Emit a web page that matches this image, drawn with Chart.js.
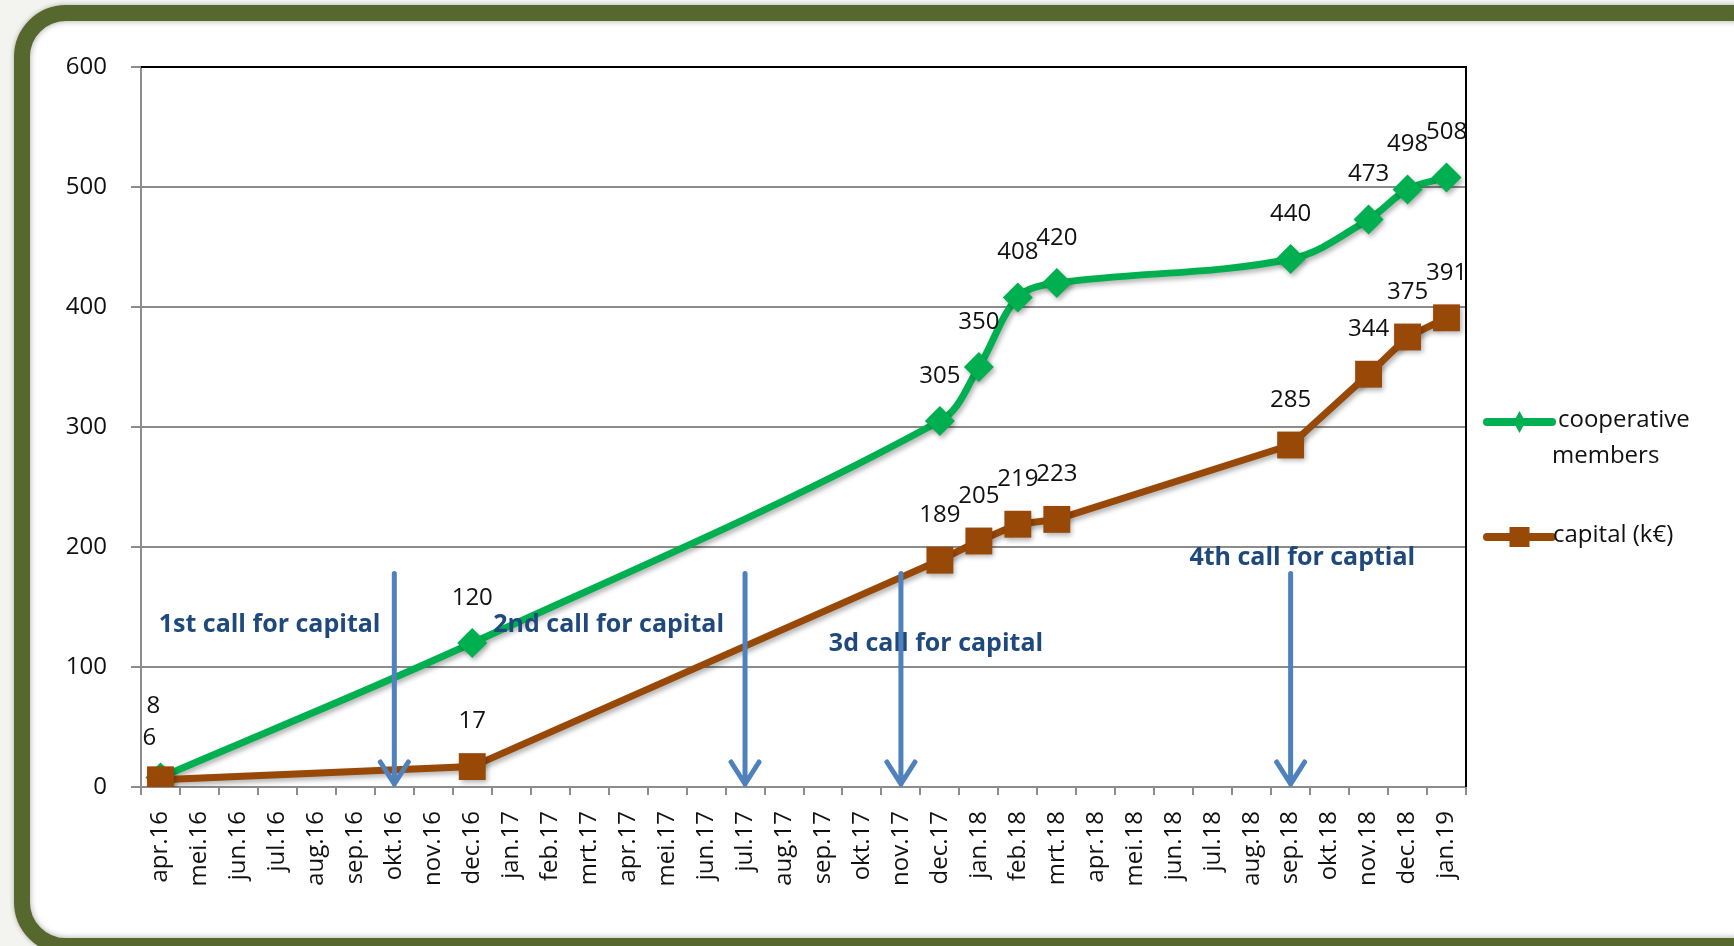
<!DOCTYPE html>
<html>
<head>
<meta charset="utf-8">
<script src="https://cdn.jsdelivr.net/npm/chart.js@4.4.1/dist/chart.umd.min.js"></script>
<style>
html, body { margin: 0; padding: 0; overflow: hidden; background: #f3f4f0; }
#wrap { position: relative; width: 1734px; height: 946px; overflow: hidden; }
#frame {
    position: absolute; left: 14px; top: 5px; width: 1738px; height: 917px;
    border: 16px solid #56682d; border-radius: 52px; background: #fff;
    box-shadow: inset 0 0 6px rgba(0,0,0,0.35), 0 0 5px rgba(0,0,0,0.3);
}
#c { position: absolute; left: 0; top: 0; }
</style>
</head>
<body>
<div id="wrap">
<div id="frame"></div>
<canvas id="c" width="1734" height="946"></canvas>
</div>
<script>
const months = ['apr.16','mei.16','jun.16','jul.16','aug.16','sep.16','okt.16','nov.16','dec.16',
    'jan.17','feb.17','mrt.17','apr.17','mei.17','jun.17','jul.17','aug.17','sep.17','okt.17','nov.17','dec.17',
    'jan.18','feb.18','mrt.18','apr.18','mei.18','jun.18','jul.18','aug.18','sep.18','okt.18','nov.18','dec.18',
    'jan.19'];

// null = no measurement that month, the line just spans over it
const members = [8, null, null, null, null, null, null, null, 120,
    null, null, null, null, null, null, null, null, null, null, null, 305,
    350, 408, 420, null, null, null, null, null, 440, null, 473, 498,
    508];
const capital = [6, null, null, null, null, null, null, null, 17,
    null, null, null, null, null, null, null, null, null, null, null, 189,
    205, 219, 223, null, null, null, null, null, 285, null, 344, 375,
    391];

const memberLegend = ['cooperative', 'members'];
const capitalLegend = ['capital (k€)'];

// calls for capital: arrow month, text, text centre (category index, value)
const callMonths = ['okt.16', 'jul.17', 'nov.17', 'sep.18'];
const callTexts = ['1st call for capital', '2nd call for capital', '3d call for capital', '4th call for captial'];
const callTextAt = [2.8, 11.5, 19.9, 29.3];
const callTextValue = [135, 135, 119, 191];
const arrowTopValue = 178;

const green = '#00b050';
const brown = '#984807';
const arrowBlue = '#4f81bd';
const textBlue = '#1f497d';

Chart.defaults.font.family = 'Open Sans';

const overlay = {
    id: 'overlay',
    beforeDatasetsDraw(chart) {
        const a = chart.chartArea, ctx = chart.ctx;
        ctx.save();
        ctx.strokeStyle = '#000';
        ctx.lineWidth = 2;
        ctx.beginPath();
        ctx.moveTo(a.left, a.top);
        ctx.lineTo(a.right, a.top);
        ctx.lineTo(a.right, a.bottom);
        ctx.stroke();
        ctx.restore();
    },
    beforeDatasetDraw(chart) {
        const ctx = chart.ctx;
        ctx.save();
        ctx.shadowColor = 'rgba(0,0,0,0.3)';
        ctx.shadowBlur = 5;
        ctx.shadowOffsetX = 2;
        ctx.shadowOffsetY = 3;
    },
    afterDatasetDraw(chart) {
        chart.ctx.restore();
    },
    afterDatasetsDraw(chart) {
        const ctx = chart.ctx, x = chart.scales.x, y = chart.scales.y;
        ctx.save();
        // value labels
        ctx.font = '24px "Open Sans"';
        ctx.fillStyle = '#111';
        ctx.textAlign = 'center';
        ctx.textBaseline = 'middle';
        chart.data.datasets.forEach((ds, di) => {
            chart.getDatasetMeta(di).data.forEach((pt, i) => {
                if (ds.data[i] === null) return;
                let dx = 0, dy = -45;
                if (i === 0) { dx = ds.label === 'members' ? -7 : -11; dy = ds.label === 'members' ? -71 : -42; }
                ctx.fillText(String(ds.data[i]), pt.x + dx, pt.y + dy);
            });
        });
        // call texts
        ctx.font = '700 25px "Open Sans"';
        ctx.fillStyle = textBlue;
        callTexts.forEach((t, i) => {
            ctx.fillText(t, x.getPixelForValue(callTextAt[i]), y.getPixelForValue(callTextValue[i]));
        });
        // arrows
        ctx.strokeStyle = arrowBlue;
        ctx.lineWidth = 5;
        ctx.lineCap = 'round';
        ctx.lineJoin = 'round';
        callMonths.forEach(m => {
            const px = x.getPixelForValue(months.indexOf(m));
            const top = y.getPixelForValue(arrowTopValue);
            const tip = y.getPixelForValue(0) - 3;
            ctx.beginPath();
            ctx.moveTo(px, top);
            ctx.lineTo(px, tip);
            ctx.moveTo(px - 14, tip - 22);
            ctx.lineTo(px, tip);
            ctx.lineTo(px + 14, tip - 22);
            ctx.stroke();
        });
        ctx.restore();
    },
    afterDraw(chart) {
        const ctx = chart.ctx, a = chart.chartArea;
        const x0 = a.right + 21, x1 = a.right + 86;
        ctx.save();
        ctx.lineCap = 'round';
        ctx.lineWidth = 8;
        // members
        let yy = 422;
        ctx.strokeStyle = green;
        ctx.beginPath(); ctx.moveTo(x0, yy); ctx.lineTo(x1, yy); ctx.stroke();
        ctx.fillStyle = green;
        const cx = (x0 + x1) / 2;
        ctx.beginPath();
        ctx.moveTo(cx, yy - 11); ctx.lineTo(cx + 6, yy); ctx.lineTo(cx, yy + 11); ctx.lineTo(cx - 6, yy);
        ctx.closePath(); ctx.fill();
        ctx.font = '24px "Open Sans"';
        ctx.fillStyle = '#111';
        ctx.textAlign = 'left';
        ctx.textBaseline = 'middle';
        ctx.fillText(memberLegend[0], x1 + 6, yy - 2);
        ctx.fillText(memberLegend[1], x1, yy + 34);
        // capital
        yy = 537;
        ctx.strokeStyle = brown;
        ctx.beginPath(); ctx.moveTo(x0, yy); ctx.lineTo(x1, yy); ctx.stroke();
        ctx.fillStyle = brown;
        ctx.fillRect(cx - 10, yy - 10, 20, 20);
        ctx.fillStyle = '#111';
        ctx.fillText(capitalLegend[0], x1 + 1, yy - 2);
        ctx.restore();
    }
};

new Chart(document.getElementById('c'), {
    type: 'line',
    data: {
        labels: months,
        datasets: [{
            label: 'members',
            data: members,
            borderColor: green,
            backgroundColor: green,
            borderWidth: 7,
            pointStyle: 'rectRot',
            pointRadius: 15,
            pointBorderWidth: 0,
            tension: 0.35,
            spanGaps: true,
            order: 1
        }, {
            label: 'capital',
            data: capital,
            borderColor: brown,
            backgroundColor: brown,
            borderWidth: 7,
            pointStyle: 'rect',
            pointRadius: 19,
            pointBorderWidth: 0,
            tension: 0,
            spanGaps: true,
            order: 0
        }]
    },
    options: {
        responsive: false,
        animation: false,
        layout: { padding: { left: 0, top: 67, right: 268, bottom: 0 } },
        plugins: { legend: { display: false }, tooltip: { enabled: false } },
        scales: {
            x: {
                offset: true,
                afterFit: s => { s.height = 159; },
                grid: { drawOnChartArea: false, offset: true, tickLength: 8, color: '#8c8c8c', lineWidth: 2 },
                border: { color: '#8c8c8c', width: 2 },
                ticks: { autoSkip: false, minRotation: 90, maxRotation: 90, padding: 16, color: '#111', font: { size: 24 } }
            },
            y: {
                min: 0,
                max: 600,
                afterFit: s => { s.width = 141; },
                grid: { color: '#8c8c8c', lineWidth: 2, tickLength: 10 },
                border: { color: '#8c8c8c', width: 2 },
                ticks: { stepSize: 100, padding: 24, color: '#111', font: { size: 24 } }
            }
        }
    },
    plugins: [overlay]
});
</script>
</body>
</html>
